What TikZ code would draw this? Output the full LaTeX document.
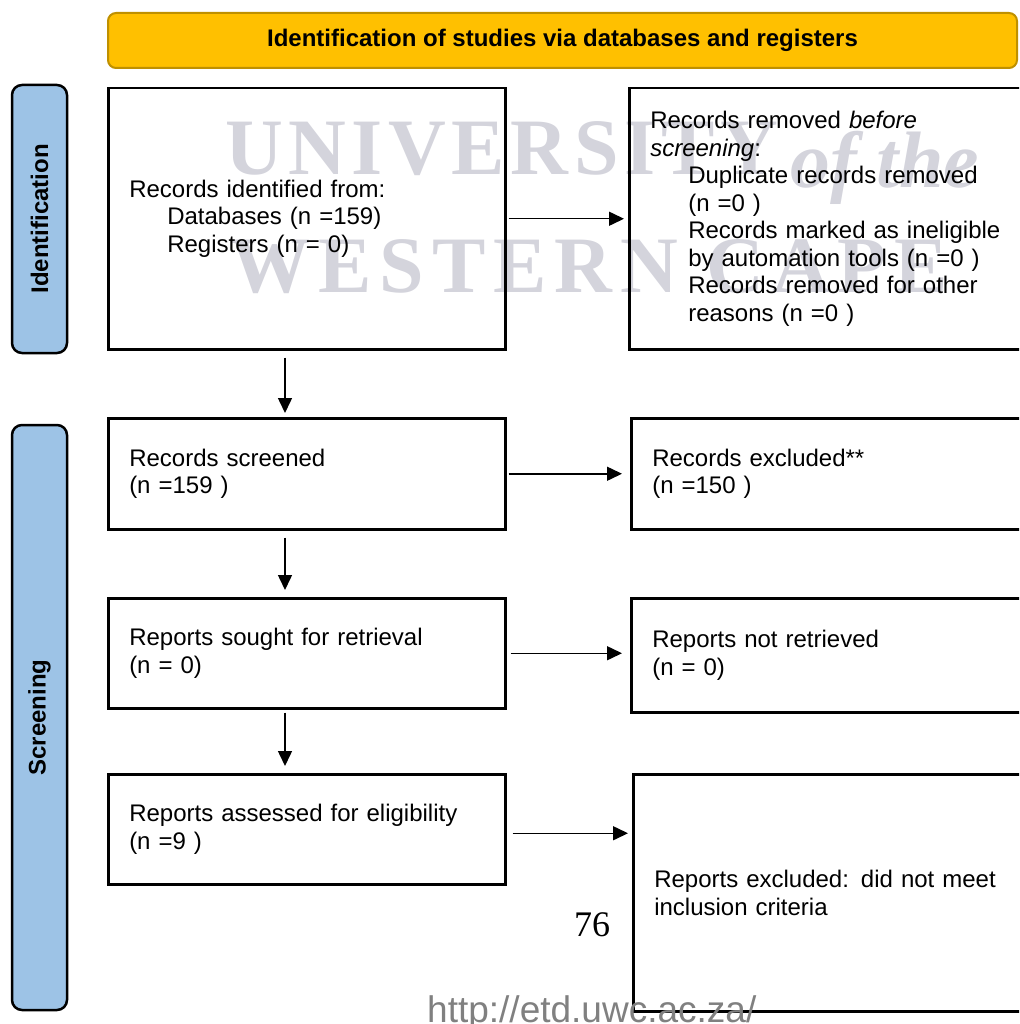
\documentclass[tikz,border=0pt]{standalone}
\usepackage{fontspec}
\setmainfont{Liberation Sans}
\newfontfamily\wmfont[LetterSpace=7]{Liberation Serif}
\newfontfamily\wmwidefont[LetterSpace=10]{Liberation Serif}
\newfontfamily\pagefont{Liberation Serif}
\usetikzlibrary{arrows.meta,positioning}

\definecolor{prismagold}{HTML}{FFC000}
\definecolor{prismaedge}{HTML}{BF9000}
\definecolor{prismablue}{HTML}{9DC3E6}
\definecolor{wmgray}{RGB}{212,212,220}
\definecolor{urlgray}{RGB}{128,128,128}

\tikzset{
  flowbox/.style={draw, line width=2.5pt, rectangle, anchor=north west,
    align=left, inner xsep=21pt, font=\fontsize{24}{27.5}\selectfont},
  sidebar/.style={draw, line width=2.5pt, rounded corners=10pt, fill=prismablue,
    rotate=90, minimum height=55pt, font=\fontsize{24}{28}\selectfont\bfseries},
  titlebox/.style={draw=prismaedge, line width=2pt, rounded corners=8pt,
    fill=prismagold, minimum width=909pt, minimum height=55pt,
    font=\fontsize{24}{28}\selectfont\bfseries},
  flowarrow/.style={line width=1.5pt, -{Triangle[length=15pt,width=14pt]}},
  wmark/.style={text=wmgray, inner sep=0pt, anchor=base west},
}

\begin{document}
\begin{tikzpicture}[x=1pt,y=-1pt]
  \useasboundingbox (0,0) rectangle (1019,1024);
  \clip (0,0) rectangle (1019,1024);

  % watermark
  \node[wmark, font=\wmfont\bfseries\fontsize{80}{80}\selectfont] (wmuni) at (225,175) {UNIVERSITY};
  \node[wmark, font=\pagefont\bfseries\itshape\fontsize{80}{80}\selectfont] (wmof) at (790,188) {of the};
  \node[wmark, font=\wmwidefont\bfseries\fontsize{80}{80}\selectfont] (wmwest) at (230,292) {WESTERN CAPE};

  % header and phases
  \node[titlebox] (title) at (562.5,40.5) {Identification of studies via databases and registers};
  \node[sidebar, minimum width=268pt] (idbar) at (39.5,219) {Identification};
  \node[sidebar, minimum width=585pt] (scrbar) at (39.5,717.5) {Screening};

  % boxes
  \node[flowbox, text width=355pt, minimum height=261pt] (recid) at (107,87)
    {Records identified from:\\
     \hspace*{38pt}Databases (n =159)\\
     \hspace*{38pt}Registers (n = 0)};
  \node[flowbox, text width=378pt, minimum height=261pt] (recrem) at (628,87)
    {Records removed \textit{before}\\
     \textit{screening}:\\
     \hspace*{38pt}Duplicate records removed\\
     \hspace*{38pt}(n =0 )\\
     \hspace*{38pt}Records marked as ineligible\\
     \hspace*{38pt}by automation tools (n =0 )\\
     \hspace*{38pt}Records removed for other\\
     \hspace*{38pt}reasons (n =0 )};
  \node[flowbox, text width=355pt, minimum height=111pt] (recscr) at (107,417)
    {Records screened\\(n =159 )};
  \node[flowbox, text width=378pt, minimum height=111pt] (recexc) at (630,417)
    {Records excluded**\\(n =150 )};
  \node[flowbox, text width=355pt, minimum height=110pt] (repsought) at (107,597)
    {Reports sought for retrieval\\(n = 0)};
  \node[flowbox, text width=378pt, minimum height=114pt] (repnot) at (630,597)
    {Reports not retrieved\\(n = 0)};
  \node[flowbox, text width=355pt, minimum height=110pt] (repass) at (107,773)
    {Reports assessed for eligibility\\(n =9 )};
  \node[flowbox, text width=378pt, minimum height=237pt] (repexc) at (632,773)
    {Reports excluded: did not meet\\inclusion criteria};

  % arrows
  \coordinate (arrowx) at (285,0);
  \draw[flowarrow, shorten <=2pt, shorten >=4pt] (recid.east) -- (recrem.west);
  \draw[flowarrow, shorten <=2pt, shorten >=8pt] (recscr.east) -- (recexc.west);
  \draw[flowarrow, shorten <=4pt, shorten >=8pt] (repsought.east) -- (repsought.east -| repnot.west);
  \draw[flowarrow, shorten <=6pt, shorten >=4pt] ([yshift=-4pt]repass.east) -- ([yshift=-4pt]repass.east -| repexc.west);
  \draw[flowarrow, shorten <=7pt, shorten >=4pt] (recid.south -| arrowx) -- (recscr.north -| arrowx);
  \draw[flowarrow, shorten <=7pt, shorten >=7pt] (recscr.south -| arrowx) -- (repsought.north -| arrowx);
  \draw[flowarrow, shorten <=3pt, shorten >=7pt] (repsought.south -| arrowx) -- (repass.north -| arrowx);

  % page footer
  \node[anchor=base, inner sep=0pt, font=\pagefont\fontsize{36}{36}\selectfont] (pagenum) at (592,936) {76};
  \node[anchor=base west, inner sep=0pt, text=urlgray, font=\fontsize{37}{37}\selectfont] (url) at (427,1022) {http://etd.uwc.ac.za/};
\end{tikzpicture}
\end{document}
